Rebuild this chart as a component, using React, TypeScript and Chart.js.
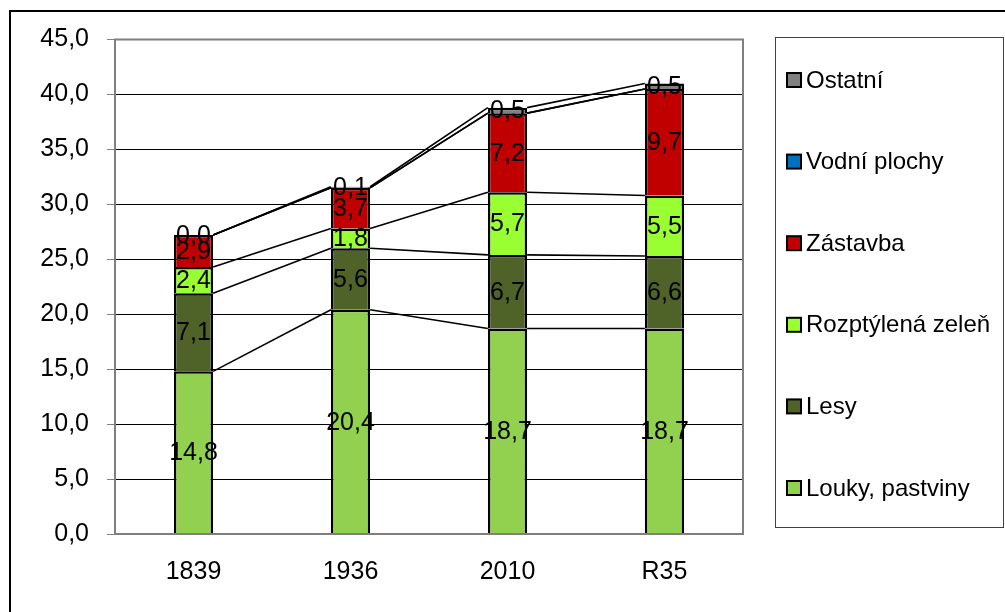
import React, { useEffect, useRef } from "react";
import { Chart, registerables } from "chart.js";

Chart.register(...registerables);

const years = ["1839", "1936", "2010", "R35"];

const loukyPastviny = [14.8, 20.4, 18.7, 18.7];
const lesy = [7.1, 5.6, 6.7, 6.6];
const rozptylenaZelen = [2.4, 1.8, 5.7, 5.5];
const zastavba = [2.9, 3.7, 7.2, 9.7];
const vodniPlochy = [0.0, 0.0, 0.0, 0.0];
const ostatni = [0.0, 0.1, 0.5, 0.5];

const seriesNames = [
  "Louky, pastviny",
  "Lesy",
  "Rozptýlená zeleň",
  "Zástavba",
  "Vodní plochy",
  "Ostatní",
];
const seriesColors = ["#92D050", "#4F6228", "#99FF33", "#C00000", "#0070C0", "#808080"];
const seriesValues = [loukyPastviny, lesy, rozptylenaZelen, zastavba, vodniPlochy, ostatni];
const labelledSeries = [true, true, true, true, false, true];

const yTicks = [0, 5, 10, 15, 20, 25, 30, 35, 40, 45];

const FONT = '"Liberation Sans", Arial, sans-serif';
const FONT_SIZE = 25;
const LEGEND_FONT_SIZE = 24;

const fmt = (v: number) => v.toFixed(1).replace(".", ",");

// Excel-style series lines joining the tops of matching stack segments
const seriesLinesPlugin = {
  id: "seriesLines",
  afterDatasetsDraw(chart: any) {
    const ctx = chart.ctx;
    ctx.save();
    ctx.strokeStyle = "#000";
    ctx.lineWidth = 1.6;
    chart.data.datasets.forEach((_: any, d: number) => {
      const meta = chart.getDatasetMeta(d);
      for (let i = 0; i < meta.data.length - 1; i++) {
        const a = meta.data[i];
        const b = meta.data[i + 1];
        ctx.beginPath();
        ctx.moveTo(a.x + a.width / 2, a.y);
        ctx.lineTo(b.x - b.width / 2, b.y);
        ctx.stroke();
      }
    });
    ctx.restore();
  },
};

// Value labels in the middle of each segment
const valueLabelsPlugin = {
  id: "valueLabels",
  afterDatasetsDraw(chart: any) {
    const ctx = chart.ctx;
    ctx.save();
    ctx.font = `${FONT_SIZE}px ${FONT}`;
    ctx.fillStyle = "#000";
    ctx.textAlign = "center";
    ctx.textBaseline = "middle";
    chart.data.datasets.forEach((ds: any, d: number) => {
      if (!labelledSeries[d]) return;
      const meta = chart.getDatasetMeta(d);
      meta.data.forEach((el: any, i: number) => {
        const v = ds.data[i];
        ctx.fillText(fmt(v), el.x, (el.y + el.base) / 2 + 1);
      });
    });
    ctx.restore();
  },
};

// Gray frame around the plot area
const plotFramePlugin = {
  id: "plotFrame",
  afterDatasetsDraw(chart: any) {
    const { left, right, top, bottom } = chart.chartArea;
    const ctx = chart.ctx;
    ctx.save();
    ctx.strokeStyle = "#7F7F7F";
    ctx.lineWidth = 2;
    ctx.strokeRect(left, top, right - left, bottom - top);
    ctx.restore();
  },
};

// Boxed legend on the right, top series first
const boxLegendPlugin = {
  id: "boxLegend",
  afterDraw(chart: any) {
    const ctx = chart.ctx;
    ctx.save();
    ctx.strokeStyle = "#404040";
    ctx.lineWidth = 1;
    ctx.strokeRect(775.5, 37.5, 228, 490);
    ctx.font = `${LEGEND_FONT_SIZE}px ${FONT}`;
    ctx.textBaseline = "middle";
    ctx.textAlign = "left";
    const n = chart.data.datasets.length;
    for (let k = 0; k < n; k++) {
      const ds = chart.data.datasets[n - 1 - k];
      const cy = 80 + k * 81.6;
      ctx.fillStyle = ds.backgroundColor;
      ctx.fillRect(787, cy - 7, 14, 14);
      ctx.strokeStyle = "#000";
      ctx.lineWidth = 2;
      ctx.strokeRect(787, cy - 7, 14, 14);
      ctx.fillStyle = "#000";
      ctx.fillText(ds.label, 806, cy + 1);
    }
    ctx.restore();
  },
};

export default function App() {
  const canvasRef = useRef<HTMLCanvasElement | null>(null);

  useEffect(() => {
    if (!canvasRef.current) return;
    const chart = new Chart(canvasRef.current, {
      type: "bar",
      data: {
        labels: years,
        datasets: seriesNames.map((name, i) => ({
          label: name,
          data: seriesValues[i],
          backgroundColor: seriesColors[i],
          borderColor: "#000",
          borderWidth: 2.5,
          barPercentage: 0.25,
          categoryPercentage: 1,
        })),
      },
      options: {
        responsive: false,
        animation: false,
        events: [],
        layout: { padding: { left: 0, right: 262, top: 39.5, bottom: 0 } },
        plugins: {
          legend: { display: false },
          tooltip: { enabled: false },
          title: { display: false },
        },
        scales: {
          x: {
            stacked: true,
            grid: { display: false, drawTicks: false },
            border: { display: false },
            ticks: {
              color: "#000",
              font: { family: FONT, size: FONT_SIZE },
              padding: 23,
            },
            afterFit: (s: any) => {
              s.height = 78;
            },
          },
          y: {
            stacked: true,
            min: 0,
            max: 45,
            afterBuildTicks: (s: any) => {
              s.ticks = yTicks.map((v) => ({ value: v }));
            },
            grid: {
              color: "#000",
              lineWidth: 1,
              tickLength: 8,
              tickColor: "#7F7F7F",
              drawTicks: true,
            },
            border: { display: false },
            ticks: {
              color: "#000",
              font: { family: FONT, size: FONT_SIZE },
              padding: 18,
              callback: (v: any) => fmt(Number(v)),
            },
            afterFit: (s: any) => {
              s.width = 115;
            },
          },
        },
      },
      plugins: [seriesLinesPlugin, plotFramePlugin, valueLabelsPlugin, boxLegendPlugin],
    });
    return () => chart.destroy();
  }, []);

  return (
    <>
      <div
        style={{
          position: "fixed",
          left: 9,
          top: 10,
          width: 1200,
          height: 800,
          borderLeft: "2px solid #000",
          borderTop: "2px solid #000",
        }}
      />
      <canvas
        ref={canvasRef}
        width={1005}
        height={612}
        style={{ position: "fixed", left: 0, top: 0, width: 1005, height: 612 }}
      />
    </>
  );
}
